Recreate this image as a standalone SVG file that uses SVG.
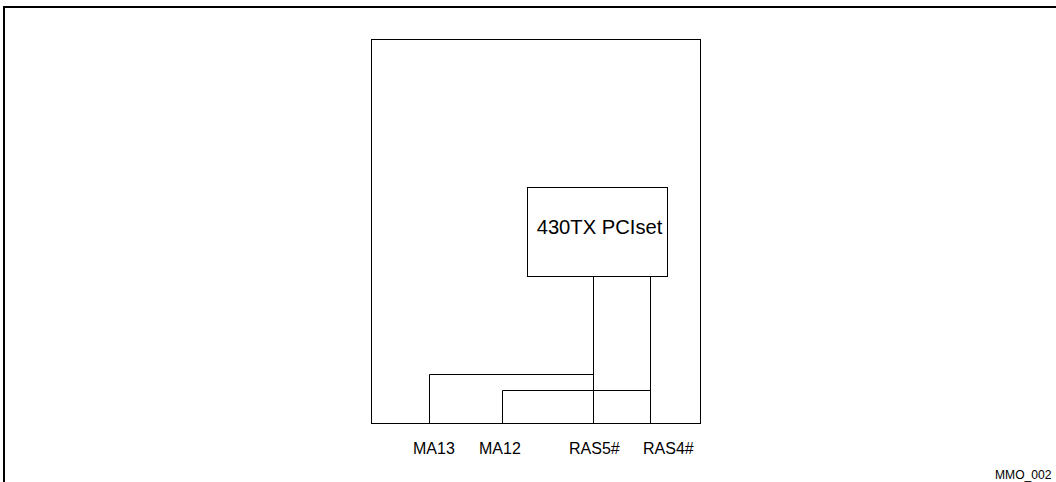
<svg xmlns="http://www.w3.org/2000/svg" width="1056" height="482" viewBox="0 0 1056 482">
<style>
.ln{fill:none;stroke:#000;stroke-width:1}
.fr{fill:none;stroke:#000;stroke-width:2}
text{font-family:"Liberation Sans",Arial,sans-serif;fill:#000}
</style>
<rect width="1056" height="482" fill="#fff"/>
<path class="fr" d="M4,482 V7 H1056"/>
<g id="board"><rect class="ln" x="371.5" y="39.5" width="329" height="384"/></g>
<g id="chip"><rect class="ln" x="527.5" y="187.5" width="140" height="89"/>
<text x="599.5" y="234" font-size="20.2" text-anchor="middle">430TX PCIset</text></g>
<g id="connectors">
<path class="ln" d="M593.5,276.5 V423.5"/>
<path class="ln" d="M650.5,276.5 V423.5"/>
<path class="ln" d="M429.5,423.5 V374.5 H593.5"/>
<path class="ln" d="M502.5,423.5 V390.5 H650.5"/>
</g>
<g id="labels" font-size="16">
<text x="413" y="454">MA13</text>
<text x="479" y="454">MA12</text>
<text x="569" y="454">RAS5#</text>
<text x="643" y="454">RAS4#</text>
</g>
<text x="995" y="478.5" font-size="12.1">MMO_002</text>
</svg>
